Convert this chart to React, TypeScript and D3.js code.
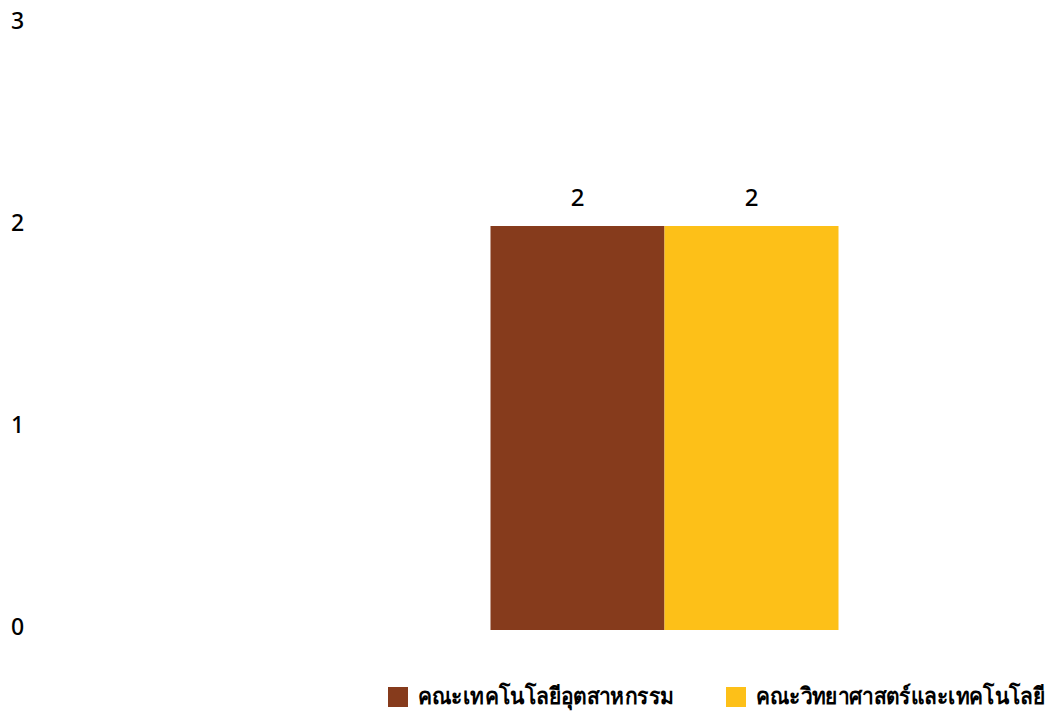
import React, { useEffect, useRef } from "react";
import * as d3 from "d3";

const categories = ["คณะเทคโนโลยีอุตสาหกรรม", "คณะวิทยาศาสตร์และเทคโนโลยี"];
const values = [2, 2];
const colors = ["#863b1c", "#fdc018"];
const yTicks = [0, 1, 2, 3];
const legendX = [388, 726];
const legendW = [254, 289];

export default function App() {
  const W = 1052, H = 711;
  const y = d3.scaleLinear().domain([0, 3]).range([630, 24]);
  const x = d3.scaleBand().domain(categories).range([490.5, 838.5]).padding(0);
  const font = "'Noto Sans', 'Open Sans', sans-serif";
  const ref = useRef<SVGGElement>(null);

  useEffect(() => {
    if (!ref.current) return;
    d3.select(ref.current)
      .selectAll<SVGTextElement, unknown>("text.leg")
      .each(function (_, i) {
        const natural = this.getComputedTextLength();
        const sx = legendW[i] / natural;
        const lx = legendX[i] + 30;
        d3.select(this).attr("transform", `translate(${lx},696) scale(${sx},1)`);
      });
  }, []);

  return (
    <svg width={W} height={H} style={{ position: "absolute", left: 0, top: 0 }} fontFamily={font}>
      <rect width={W} height={H} fill="#fff" />
      {yTicks.map((t) => (
        <text key={t} x={11} y={y(t) - 3} dy="0.35em" fontSize={23} fontWeight={500} fill="#000">
          {t}
        </text>
      ))}
      {categories.map((c, i) => (
        <g key={c}>
          <rect x={x(c)} y={y(values[i])} width={x.bandwidth()} height={y(0) - y(values[i])} fill={colors[i]} />
          <text x={(x(c) as number) + x.bandwidth() / 2} y={y(values[i]) - 28} dy="0.35em" textAnchor="middle" fontSize={24} fontWeight={500} fill="#000">
            {values[i]}
          </text>
        </g>
      ))}
      <g ref={ref}>
        {categories.map((c, i) => (
          <g key={c}>
            <rect x={legendX[i]} y={687} width={20} height={20} fill={colors[i]} />
            <text className="leg" transform={`translate(${legendX[i] + 30},696) scale(0.9,1)`} dy="0.35em" fontSize={23} fontWeight={600} fill="#000">
              {c}
            </text>
          </g>
        ))}
      </g>
    </svg>
  );
}
